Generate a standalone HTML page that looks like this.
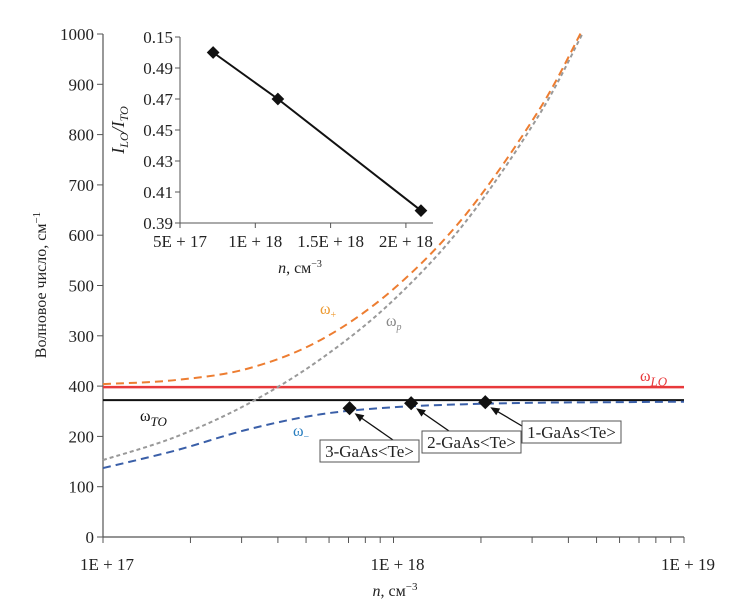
<!DOCTYPE html>
<html><head><meta charset="utf-8"><style>
body{margin:0;background:#fff;}
svg{display:block;}
svg text{font-family:"Liberation Serif","DejaVu Serif",serif;}
</style></head><body>
<svg id="c" width="755" height="612" viewBox="0 0 755 612" font-family="Liberation Serif, serif"></svg>
<script>
// main chart data
const logN = [17, 17.25, 17.5, 17.75, 18, 18.25, 18.5, 18.65];
const omegaPlus = [304, 312, 335, 392, 493, 642, 848, 1008];
const omegaP = [153, 199, 265, 354, 471, 628, 838, 1000];
const logNMinus = [17, 17.25, 17.5, 17.75, 18, 18.25, 18.5, 18.75, 19];
const omegaMinus = [137, 172, 214, 244, 258, 264, 267, 268, 269];
const omegaLO = 298;
const omegaTO = 272;
const samplesN = [2.07e18, 1.15e18, 7.06e17];
const samplesW = [268, 266, 256];
const sampleLabels = ["1-GaAs<Te>", "2-GaAs<Te>", "3-GaAs<Te>"];
const yTickValues = [0,100,200,300,400,500,600,700,800,900,1000];
const yTickLabels = ["0","100","200","400","300","500","600","700","800","900","1000"];
const xTickExp = [17,18,19];
const xTickLabels = ["1E + 17","1E + 18","1E + 19"];
// inset data
const insetN = [7.2e17, 1.15e18, 2.1e18];
const insetRatio = [0.50, 0.47, 0.398];
const insetYTicks = [0.39,0.41,0.43,0.45,0.47,0.49,0.51];
const insetYLabels = ["0.39","0.41","0.43","0.45","0.47","0.49","0.15"];
const insetXTicks = [5e17,1e18,1.5e18,2e18];
const insetXLabels = ["5E + 17","1E + 18","1.5E + 18","2E + 18"];

const NS="http://www.w3.org/2000/svg";
const svg=document.getElementById('c');
function mk(t,a,p){const e=document.createElementNS(NS,t);for(const k in a)e.setAttribute(k,a[k]);(p||svg).appendChild(e);return e;}
const X0=103, DEC=290.5, Y0=537, YS=0.503;
const xL=l=>X0+(l-17)*DEC;
const xN=n=>xL(Math.log10(n));
const y=v=>Y0-v*YS;
const ix=n=>180+(n-5e17)/5e17*75.3;
const iy=v=>223-(v-0.39)/0.02*31;

function smooth(pts){let d=`M${pts[0][0]},${pts[0][1]}`;for(let i=0;i<pts.length-1;i++){const p0=pts[Math.max(0,i-1)],p1=pts[i],p2=pts[i+1],p3=pts[Math.min(pts.length-1,i+2)];d+=` C${p1[0]+(p2[0]-p0[0])/6},${p1[1]+(p2[1]-p0[1])/6} ${p2[0]-(p3[0]-p1[0])/6},${p2[1]-(p3[1]-p1[1])/6} ${p2[0]},${p2[1]}`;}return d;}

let e;
e=mk('line',{x1:X0,y1:y(1000),x2:X0,y2:Y0,stroke:'#555','stroke-width':1.2});

e=mk('line',{x1:X0,y1:Y0,x2:xL(19),y2:Y0,stroke:'#555','stroke-width':1.2});

yTickValues.forEach((v,i)=>{
 mk('line',{x1:X0-6,y1:y(v),x2:X0,y2:y(v),stroke:'#555'});
 const t=mk('text',{x:X0-9,y:y(v)+6,'text-anchor':'end','font-size':17,fill:'#222'});t.textContent=yTickLabels[i];
 
});
for(let d=17;d<19;d++)for(let m=1;m<=10;m++){const xx=xL(d+Math.log10(m));mk('line',{x1:xx,y1:Y0,x2:xx,y2:Y0+6,stroke:'#555'});}
xTickExp.forEach((l,i)=>{const t=mk('text',{x:xL(l)+4,y:Y0+33,'text-anchor':'middle','font-size':17,fill:'#222'});t.textContent=xTickLabels[i];
 });
e=mk('text',{x:395,y:596,'text-anchor':'middle','font-size':16,fill:'#222'});
e.innerHTML='<tspan font-style="italic">n</tspan>, см<tspan dy="-6" font-size="11">−3</tspan>';

e=mk('text',{x:0,y:0,'text-anchor':'middle','font-size':16,fill:'#222',transform:'translate(46,285) rotate(-90)'});
e.innerHTML='Волновое число, см<tspan dy="-6" font-size="11">−1</tspan>';


e=mk('line',{x1:X0,y1:y(omegaLO),x2:xL(19),y2:y(omegaLO),stroke:'#e8393b','stroke-width':2.5});

e=mk('line',{x1:X0,y1:y(omegaTO),x2:xL(19),y2:y(omegaTO),stroke:'#111','stroke-width':2});


e=mk('path',{d:smooth(logN.map((l,i)=>[xL(l),y(omegaP[i])])),fill:'none',stroke:'#999','stroke-width':2,'stroke-dasharray':'4 3'});

e=mk('path',{d:smooth(logN.map((l,i)=>[xL(l),y(omegaPlus[i])])),fill:'none',stroke:'#ed7d31','stroke-width':2,'stroke-dasharray':'8 5'});

e=mk('path',{d:smooth(logNMinus.map((l,i)=>[xL(l),y(omegaMinus[i])])),fill:'none',stroke:'#3a5fa8','stroke-width':2,'stroke-dasharray':'8 5'});


function lab(x,yy,html,col,name){const t=mk('text',{x:x,y:yy,'font-size':16,fill:col});t.innerHTML=html;}
lab(320,314,'ω<tspan dy="4" font-size="10">+</tspan>','#ed9a31','omega-plus-label');
lab(386,326,'ω<tspan dy="4" font-size="10" font-style="italic">p</tspan>','#888','omega-p-label');
lab(140,421,'ω<tspan dy="5" font-size="13" font-style="italic">TO</tspan>','#111','omega-to-label');
lab(293,436,'ω<tspan dy="4" font-size="10">−</tspan>','#2a7fc0','omega-minus-label');
lab(640,381,'ω<tspan dy="5" font-size="13" font-style="italic">LO</tspan>','#e8393b','omega-lo-label');

// sample points + annotation boxes
const boxes=[[522,421],[422,431],[320,440]];
const starts=[[522,426],[449,431],[393,440]];
samplesN.forEach((n,i)=>{
 const px=xN(n),py=y(samplesW[i]);
 const [bx,by]=boxes[i];
 const [sx,sy]=starts[i];
 const tx=px+5,ty=py+5;
 const ang=Math.atan2(ty-sy,tx-sx);
 mk('line',{x1:sx,y1:sy,x2:tx-7*Math.cos(ang),y2:ty-7*Math.sin(ang),stroke:'#111','stroke-width':1.3});
 const a1=ang+Math.PI-0.4,a2=ang+Math.PI+0.4;
 mk('path',{d:`M${tx},${ty} L${tx+10*Math.cos(a1)},${ty+10*Math.sin(a1)} L${tx+10*Math.cos(a2)},${ty+10*Math.sin(a2)} Z`,fill:'#111'});
 e=mk('rect',{x:px-5,y:py-5,width:10,height:10,fill:'#111',transform:`rotate(45 ${px} ${py})`});
 
 e=mk('rect',{x:bx,y:by,width:99,height:22,fill:'#fff',stroke:'#555'});
 
 const t=mk('text',{x:bx+49.5,y:by+17,'text-anchor':'middle','font-size':17,fill:'#222'});t.textContent=sampleLabels[i];
 
});

// inset
const ig=mk('g',{});
mk('line',{x1:180,y1:iy(0.51),x2:180,y2:223,stroke:'#555'},ig);
mk('line',{x1:180,y1:223,x2:433,y2:223,stroke:'#555'},ig);
insetYTicks.forEach((v,i)=>{mk('line',{x1:175,y1:iy(v),x2:180,y2:iy(v),stroke:'#555'},ig);
 const t=mk('text',{x:173,y:iy(v)+6,'text-anchor':'end','font-size':17,fill:'#222'},ig);t.textContent=insetYLabels[i];
 });
insetXTicks.forEach((v,i)=>{mk('line',{x1:ix(v),y1:223,x2:ix(v),y2:228,stroke:'#555'},ig);
 const t=mk('text',{x:ix(v),y:247,'text-anchor':'middle','font-size':17,fill:'#222'},ig);t.textContent=insetXLabels[i];
 });
e=mk('polyline',{points:insetN.map((n,i)=>ix(n)+','+iy(insetRatio[i])).join(' '),fill:'none',stroke:'#111','stroke-width':2},ig);

insetN.forEach((n,i)=>{const px=ix(n),py=iy(insetRatio[i]);e=mk('rect',{x:px-4.5,y:py-4.5,width:9,height:9,fill:'#111',transform:`rotate(45 ${px} ${py})`},ig);
 });
e=mk('text',{x:0,y:0,'text-anchor':'middle','font-size':18,fill:'#222','font-style':'italic',transform:'translate(124,130) rotate(-90)'},ig);
e.innerHTML='I<tspan dy="4" font-size="12">LO</tspan><tspan dy="-4">/I</tspan><tspan dy="4" font-size="12">TO</tspan>';

e=mk('text',{x:300,y:273,'text-anchor':'middle','font-size':16,fill:'#222'},ig);
e.innerHTML='<tspan font-style="italic">n</tspan>, см<tspan dy="-6" font-size="10">−3</tspan>';

</script>
</body></html>
